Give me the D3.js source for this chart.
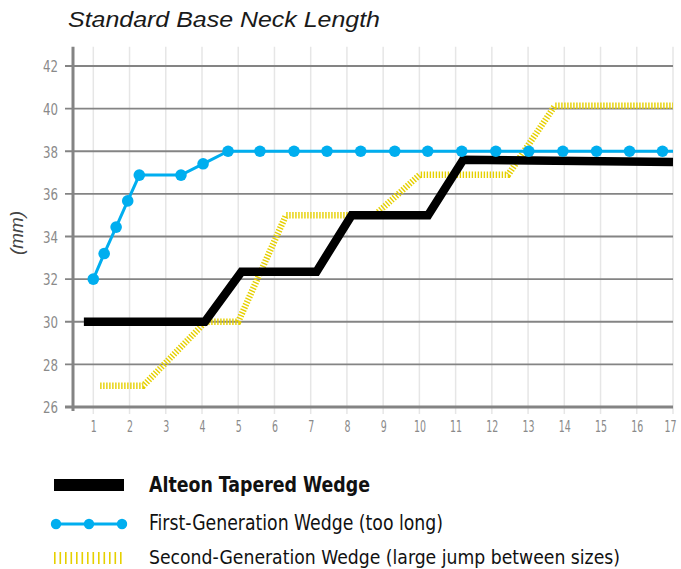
<!DOCTYPE html>
<html>
<head>
<meta charset="utf-8">
<script src="https://cdn.jsdelivr.net/npm/d3@7"></script>
<style>
  html, body { margin: 0; padding: 0; background: #fff; }
  svg { display: block; }
  .cond { font-family: 'Liberation Sans Narrow', 'DejaVu Sans Condensed', 'Roboto', sans-serif; font-stretch: condensed; }
</style>
</head>
<body>
<svg id="chart" width="681" height="569"></svg>
<script>
// ---- data ----
const xTicks = [1,2,3,4,5,6,7,8,9,10,11,12,13,14,15,16,17];
const yTicks = [26,28,30,32,34,36,38,40,42];

const alteonX = [0.74, 4.08, 5.09, 7.16, 8.13, 10.24, 11.21, 17];
const alteonY = [30, 30, 32.35, 32.35, 35, 35, 37.6, 37.5];

const firstGenX = [1, 1.3, 1.63, 1.95, 2.27, 3.42, 4.03, 4.72, 5.6, 6.54, 7.45, 8.38, 9.32, 10.23, 11.17, 12.11, 13.02, 13.96, 14.89, 15.8, 16.71];
const firstGenY = [32, 33.2, 34.44, 35.67, 36.88, 36.88, 37.41, 38, 38, 38, 38, 38, 38, 38, 38, 38, 38, 38, 38, 38, 38];

const secondGenX = [1.19, 2.38, 4.1, 5.0, 6.32, 8.77, 10.01, 12.45, 13.74, 17];
const secondGenY = [27, 27, 30, 30, 35, 35, 36.9, 36.9, 40.13, 40.13];

const seriesNames = [
  "Alteon Tapered Wedge",
  "First-Generation Wedge (too long)",
  "Second-Generation Wedge (large jump between sizes)"
];
const titleText = "Standard Base Neck Length";
const yLabelText = "(mm)";

// ---- drawing ----
const svg = d3.select("#chart");
const BLUE = "#00aeef", YELLOW = "#e6d000", AXIS = "#848484", GRIDV = "#e6e6e6", TICKTXT = "#8a8a8a";

const x = d3.scaleLinear().domain([1, 17]).range([93.3, 673]);
const y = d3.scaleLinear().domain([26, 42]).range([407, 66]);
const yTop = y(42.9);
const axisX = 73;

// vertical light gridlines
svg.append("g").selectAll("line").data(xTicks).join("line")
  .attr("x1", d => x(d)).attr("x2", d => x(d))
  .attr("y1", yTop).attr("y2", y(26) + 7)
  .attr("stroke", GRIDV).attr("stroke-width", 1.5);

// horizontal gridlines (with tick marks)
svg.append("g").selectAll("line").data(yTicks.filter(d => d !== 26)).join("line")
  .attr("x1", axisX - 8).attr("x2", x(17))
  .attr("y1", d => y(d)).attr("y2", d => y(d))
  .attr("stroke", AXIS).attr("stroke-width", 1.8);

// y tick labels via axis
const yAxis = d3.axisLeft(y).tickValues(yTicks).tickSize(0).tickPadding(0);
const gy = svg.append("g").attr("transform", `translate(${axisX - 15},0)`).call(yAxis);
gy.select(".domain").remove();
gy.selectAll("text").attr("class", "cond").attr("font-size", 16).attr("fill", TICKTXT).attr("dy", "0.36em")
  .attr("textLength", d => String(d).length * 7.5).attr("lengthAdjust", "spacingAndGlyphs");

// x tick labels via axis
const xAxis = d3.axisBottom(x).tickValues(xTicks).tickSize(0).tickPadding(0);
const gx = svg.append("g").attr("transform", `translate(0,${y(26) + 14})`).call(xAxis);
gx.select(".domain").remove();
const lastTick = xTicks[xTicks.length - 1];
gx.selectAll("text").attr("class", "cond").attr("font-size", 15).attr("fill", TICKTXT).attr("dy", "0.7em")
  .attr("textLength", d => String(d).length * 6).attr("lengthAdjust", "spacingAndGlyphs")
  .attr("text-anchor", d => d === lastTick ? "end" : "middle")
  .attr("dx", d => d === lastTick ? 3 : 0);

// axes lines
svg.append("line").attr("x1", axisX).attr("x2", axisX).attr("y1", yTop).attr("y2", y(26) + 4)
  .attr("stroke", AXIS).attr("stroke-width", 3);
svg.append("line").attr("x1", axisX - 8).attr("x2", x(17)).attr("y1", y(26)).attr("y2", y(26))
  .attr("stroke", AXIS).attr("stroke-width", 3.2);

const line = d3.line().x(d => x(d[0])).y(d => y(d[1]));

// second generation (yellow hatched)
const secondPts = secondGenX.map((v, i) => [v, secondGenY[i]]);
svg.append("path").datum(secondPts).attr("d", line)
  .attr("fill", "none").attr("stroke", YELLOW).attr("stroke-width", 6.5)
  .attr("stroke-dasharray", "1.4,1.6").attr("stroke-linejoin", "miter");

// alteon (black)
const alteonPts = alteonX.map((v, i) => [v, alteonY[i]]);
svg.append("path").datum(alteonPts).attr("d", line)
  .attr("fill", "none").attr("stroke", "#000").attr("stroke-width", 8.5)
  .attr("stroke-linejoin", "miter");

// first generation (blue with dots)
const firstPts = firstGenX.map((v, i) => [v, firstGenY[i]]);
const firstLine = firstPts.concat([[x.domain()[1], firstGenY[firstGenY.length - 1]]]);
svg.append("path").datum(firstLine).attr("d", line)
  .attr("fill", "none").attr("stroke", BLUE).attr("stroke-width", 3);
svg.append("g").selectAll("circle").data(firstPts).join("circle")
  .attr("cx", d => x(d[0])).attr("cy", d => y(d[1])).attr("r", 5.8).attr("fill", BLUE);

// title
svg.append("text").attr("x", 68).attr("y", 27)
  .attr("font-family", "'Liberation Sans', Arial, sans-serif").attr("font-style", "italic")
  .attr("font-size", 21.5).attr("fill", "#1a1a1a")
  .attr("textLength", 312).attr("lengthAdjust", "spacingAndGlyphs")
  .text(titleText);

// y label
svg.append("text").attr("transform", "translate(23,233) rotate(-90)")
  .attr("text-anchor", "middle")
  .attr("font-family", "'Liberation Sans', Arial, sans-serif").attr("font-style", "italic")
  .attr("font-size", 18).attr("fill", "#444")
  .attr("textLength", 44).attr("lengthAdjust", "spacingAndGlyphs")
  .text(yLabelText);

// legend
const lg = svg.append("g");
lg.append("rect").attr("x", 54).attr("y", 479).attr("width", 70).attr("height", 12).attr("fill", "#000");
lg.append("line").attr("x1", 52).attr("x2", 127).attr("y1", 524).attr("y2", 524).attr("stroke", BLUE).attr("stroke-width", 3);
lg.selectAll("circle").data([56, 89, 122]).join("circle")
  .attr("cx", d => d).attr("cy", 524).attr("r", 5.2).attr("fill", BLUE);
lg.append("line").attr("x1", 54).attr("x2", 124).attr("y1", 558).attr("y2", 558)
  .attr("stroke", YELLOW).attr("stroke-width", 12).attr("stroke-dasharray", "1.6,3.9");

const legendText = [
  {t: seriesNames[0], y: 492, w: 221, bold: true, fs: 21},
  {t: seriesNames[1], y: 530, w: 294, bold: false, fs: 21},
  {t: seriesNames[2], y: 564, w: 471, bold: false, fs: 20}
];
lg.selectAll("text").data(legendText).join("text")
  .attr("class", "cond")
  .attr("x", 149).attr("y", d => d.y)
  .attr("font-size", d => d.fs)
  .attr("font-weight", d => d.bold ? "bold" : "normal")
  .attr("fill", "#111")
  .attr("textLength", d => d.w).attr("lengthAdjust", "spacingAndGlyphs")
  .text(d => d.t);
</script>
</body>
</html>
